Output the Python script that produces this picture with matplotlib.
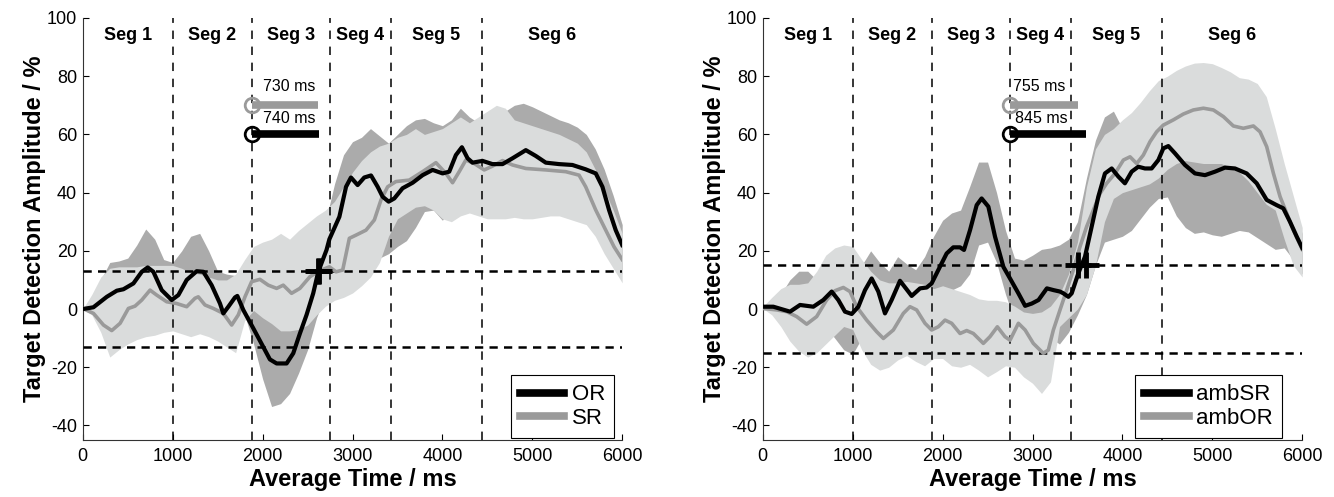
import numpy as np
import matplotlib
matplotlib.use("Agg")
import matplotlib.pyplot as plt
from matplotlib.lines import Line2D

plt.rcParams['font.family'] = ['Liberation Sans', 'DejaVu Sans']
plt.rcParams['axes.unicode_minus'] = False

# ---- data ----
# band edges sampled every 100 ms
TIME = np.arange(0, 6001, 100)
SEG_BOUNDS = [1000, 1885, 2750, 3425, 4440]
SEG_LABELS = ["Seg 1", "Seg 2", "Seg 3", "Seg 4", "Seg 5", "Seg 6"]

# left panel: OR (black, dark band) and SR (gray, light band)
left_or_up = [0, 3, 10, 16, 16.5, 17.5, 22, 27.5, 24, 17, 16, 20, 25, 26, 20, 13, 12, 11.5, 8, 4,
              0, -3, -5, -4, 0, 8, 18, 30, 43, 53, 57.5, 59, 62, 59.5, 57, 60, 63, 65, 65.5, 64,
              63, 65, 69, 66, 64, 63, 65, 68, 70, 70.7, 69.5, 68, 66.5, 65, 64, 62.5, 60, 55, 48, 39, 29]
left_or_lo = [0, -1, -2, -3, -3, -2, 0, 2, 0, -3, -4, -2, 0, 0, -3, -6, -8, -8, -2, -12,
              -24, -33.5, -32.5, -29, -22, -14, -3, 5, 10, 14, 16, 17, 17, 17.5, 19, 21.5, 23.5, 28, 33.5, 34,
              30.5, 35, 40, 40, 40, 40, 40, 40, 40, 40, 40, 40, 40, 40, 39, 38, 36, 32, 25, 18, 12]
left_sr_up = [0, 5, 11, 14, 14.5, 14.5, 14.5, 15, 15, 15, 15, 14, 12.5, 12, 11, 10, 10, 12, 17, 21.5,
              23, 24, 26, 24, 27, 29.5, 32, 34, 37, 42, 47, 51, 54, 56, 57, 59, 60, 62, 60, 61,
              62, 64, 66, 64, 66, 68, 70, 69, 65, 64, 63, 62, 61, 60, 58.5, 57, 54, 48, 41, 34, 26]
left_sr_lo = [0, -2, -8, -16.5, -14, -12, -10.5, -9.5, -9, -8, -7.5, -8.5, -9.5, -8.5, -9.5, -11, -13, -15, -4, -0.5,
              -3, -5, -7.5, -7.5, -7, -5.5, -2, 1, 3, 4, 5.5, 8, 11, 16, 25, 31, 33, 35, 35.5, 34,
              31, 30, 32, 33, 32, 31, 31, 31, 31.5, 31, 31, 31.5, 32, 32, 31, 30, 29, 25, 19, 14, 9]

left_or_t = [0, 118, 267, 378, 452, 563, 656, 722, 785, 878, 989, 1063, 1156, 1267, 1341, 1433, 1526,
             1563, 1619, 1693, 1719, 1785, 1896, 2007, 2081, 2156, 2267, 2341, 2415, 2489, 2563, 2619,
             2711, 2743, 2854, 2928, 2983, 3057, 3131, 3206, 3280, 3335, 3402, 3465, 3557, 3669, 3780,
             3891, 4002, 4076, 4150, 4217, 4280, 4335, 4446, 4557, 4669, 4780, 4928, 5039, 5150, 5298,
             5446, 5594, 5706, 5780, 5854, 5928, 6000]
left_or_v = [0, 0.6, 4.2, 6.3, 6.8, 8.8, 12.8, 14.3, 12.8, 6.5, 3.1, 4.8, 10, 13, 12.8, 8.2, 1.9,
             -1.5, 0.8, 4, 4.5, -0.3, -6.6, -13, -17.3, -18.7, -18.7, -15.2, -8.4, -2, 5.4, 12.8,
             20.3, 24, 31.7, 42, 45.2, 42.6, 45.2, 45.9, 42, 38.6, 36.9, 38, 41.5, 43.4, 46,
             47.8, 46.6, 47.2, 52.9, 55.6, 51.8, 50.3, 50.9, 49.8, 49.8, 51.8, 54.6, 52.6, 50.3, 49.8,
             49.5, 48, 46.6, 42, 34, 27.1, 22]
left_sr_t = [0, 119, 230, 322, 415, 507, 581, 656, 748, 822, 933, 1044, 1156, 1248, 1285, 1359, 1452,
             1563, 1656, 1730, 1804, 1878, 1970, 2063, 2156, 2230, 2322, 2415, 2526, 2637, 2743, 2817,
             2891, 2965, 3039, 3150, 3243, 3317, 3391, 3483, 3631, 3780, 3928, 4039, 4113, 4187, 4261,
             4354, 4465, 4557, 4669, 4780, 4928, 5150, 5372, 5520, 5594, 5706, 5817, 5909, 6000]
left_sr_v = [0.2, -1.5, -5.5, -7.4, -4.9, 0.2, 1, 3.1, 6.5, 4.8, 2.5, 1.9, 0.8, 3.7, 4.2, 1.4, 0.2,
             -1.5, -5.5, -2, 4.2, 9.4, 10.2, 8.2, 7.1, 8.2, 5.4, 7.1, 11.1, 13.2, 14.5, 12.8,
             13.4, 24.3, 25.4, 27.1, 30.6, 37.5, 42, 43.8, 44.3, 47.2, 50.3, 46.6, 43.4, 47.2, 51.2,
             50, 47.8, 49.1, 51, 49.5, 48.3, 47.8, 47.2, 46, 42, 34, 27.1, 21.4, 17]

# right panel: ambSR (black, dark band) and ambOR (gray, light band)
right_sr_up = [0.8, 2, 5, 10, 13, 13, 10, 10, 10, 10, 10, 15, 20, 16, 13, 18, 15.5, 13.5, 18, 25,
               30.5, 33, 34, 42, 50.5, 50.5, 40, 27, 17.5, 16.8, 18.5, 20.5, 21, 22, 24, 30, 45, 58, 66, 68,
               62, 60, 62, 64, 66, 67, 66, 66, 65, 64, 64, 64, 63, 62, 60, 58, 54, 50, 44, 35, 26]
right_sr_lo = [0.8, 0, -1, -2, -2, -2, -3, -6, -10, -14, -15.5, -10, -6, -6, -7, -4, -4, -3, -2, 0,
               4, 6.5, 8, 12, 22, 23, 16, 5, -4, -8, -9, -8, -10, -12, -8, -2, 5, 15, 23, 24,
               25, 27, 31, 35, 38, 38.5, 32, 28, 26, 26.5, 25.5, 25, 26, 27, 26.5, 24.5, 22.5, 20.5, 21, 17, 12]
right_or_up = [0.8, 4, 7, 8.5, 8.5, 9, 13, 18.5, 21, 22, 21.5, 17, 13, 10, 9, 9, 9.5, 9, 8.5, 7,
               8, 7, 6, 5, 3.5, 3, 3, 2.5, 1, -1, -1.5, -1, 1, 5, 12, 23, 42, 55, 60, 62,
               65, 67.5, 71, 75, 78.5, 80, 82, 83.5, 84.5, 84.7, 84.3, 83, 81.5, 79.5, 79, 77.5, 73, 62, 50, 39, 28]
right_or_lo = [0.2, -2, -6, -11, -14.5, -16.5, -15, -12, -9, -6, -7, -14, -19, -21, -20, -17.5, -16, -18, -19.5, -17,
               -17, -19.5, -20, -19, -21, -23.3, -21.5, -19.5, -20, -23.3, -25.5, -29, -25, -6, -3, 0, 5, 15, 30, 38,
               40, 41, 42, 43, 45, 48, 50, 51, 50.5, 50, 50, 50, 48.5, 47, 44, 40, 36, 34, 24, 15, 11]

right_sr_t = [0, 117, 303, 414, 562, 673, 766, 840, 914, 989, 1063, 1137, 1211, 1285, 1359, 1433, 1526,
              1619, 1656, 1749, 1823, 1878, 1952, 2045, 2119, 2194, 2238, 2305, 2379, 2434, 2509, 2583,
              2676, 2750, 2843, 2918, 2993, 3067, 3160, 3234, 3306, 3343, 3399, 3436, 3510, 3584, 3658,
              3732, 3806, 3881, 3955, 4028, 4103, 4177, 4251, 4325, 4400, 4455, 4511, 4585, 4696, 4807,
              4919, 5030, 5141, 5252, 5382, 5494, 5605, 5716, 5790, 5864, 5939, 6000]
right_sr_v = [0.8, 0.8, -0.9, 1.4, 0.8, 3.1, 6, 3.1, -0.9, -1.7, 0.8, 6.5, 10.5, 6, -1.5, 3.1, 9.7,
              6, 4.5, 7.1, 7.4, 8.8, 13.4, 19.1, 21.2, 21.2, 20.3, 27.1, 35.7, 38, 35.2, 24.9,
              14.5, 10.5, 5.4, 1.1, 1.9, 3.1, 7.1, 6.5, 6, 5.4, 4.2, 5.4, 12.3, 18, 28.3,
              38.6, 46.6, 48.3, 45.5, 43.2, 47.2, 48.9, 48.3, 48.3, 51.2, 55.2, 56, 53.5, 49.5, 46.6,
              46, 47.2, 48.6, 48.3, 46.6, 43.2, 37.5, 35.7, 34.6, 30, 24.9, 21]
right_or_t = [0, 154, 266, 377, 488, 599, 710, 803, 896, 970, 1044, 1155, 1267, 1341, 1452, 1563, 1637,
              1711, 1804, 1878, 1952, 2027, 2101, 2194, 2268, 2342, 2453, 2527, 2609, 2694, 2750, 2843,
              2918, 3009, 3120, 3176, 3232, 3306, 3380, 3454, 3528, 3602, 3677, 3751, 3825, 3918, 4011,
              4085, 4159, 4233, 4307, 4381, 4455, 4567, 4678, 4789, 4901, 5012, 5124, 5234, 5345, 5457,
              5531, 5605, 5680, 5754, 5828, 5902, 6000]
right_or_v = [0.2, -0.3, -0.9, -2.6, -5.2, -2.6, 3.1, 6.3, 7.4, 6, 0.8, -3.8, -7.8, -10.1, -7.2, -1.5, 0.8,
              -0.3, -4.9, -7.2, -6.1, -3.8, -4.9, -8.4, -7.4, -8.4, -11.8, -9.5, -6.1, -9.5, -10.7, -4.9,
              -7.2, -11.8, -15.2, -14.1, -7.2, -0.3, 6.5, 13.4, 21.4, 28.3, 34, 39.7, 43.2, 46.6, 51.2,
              52.3, 50, 52.9, 57.5, 60.9, 63.2, 65, 67, 68.4, 69, 68.4, 66.1, 62.9, 62.1, 62.9,
              60.9, 55.8, 46.6, 38.6, 32.9, 27.1, 20.5]

left_threshold = 13
right_threshold = 15
left_latency = [730, 740]     # gray, black
right_latency = [755, 845]
left_names = ["OR", "SR"]
right_names = ["ambSR", "ambOR"]

DARK_BAND = "#ababab"
LIGHT_BAND = "#dadcdc"
GRAY_LINE = "#9a9a9a"


def draw_panel(ax, dark_up, dark_lo, light_up, light_lo, blk_t, blk_v, gry_t, gry_v,
               thr, onset, latency, names, text_dx, leg_x):
    # bands: dark first, light opaque on top
    ax.fill_between(TIME, dark_lo, dark_up, color=DARK_BAND, lw=0, zorder=1)
    ax.fill_between(TIME, light_lo, light_up, color=LIGHT_BAND, lw=0, zorder=2)

    for b in SEG_BOUNDS:
        ax.axvline(b, color="k", lw=1.1, ls=(0, (5.5, 5)), zorder=3)
    for h in (thr, -thr):
        ax.axhline(h, color="k", lw=1.8, ls=(0, (3.3, 2.5)), zorder=3)

    ax.plot(gry_t, gry_v, color=GRAY_LINE, lw=2.6, zorder=4)
    ax.plot(blk_t, blk_v, color="k", lw=3, zorder=5)

    # segment labels
    edges = [0] + SEG_BOUNDS + [6000]
    for i, lab in enumerate(SEG_LABELS):
        ax.text((edges[i] + edges[i + 1]) / 2, 94, lab, ha="center", va="center",
                fontsize=13, fontweight="bold", zorder=6)

    # latency bars
    lat_g, lat_k = latency
    ax.plot([onset, onset + lat_g], [70, 70], color=GRAY_LINE, lw=5.5,
            solid_capstyle="butt", zorder=6)
    ax.plot(onset, 70, "o", ms=10.5, mfc="none", mec=GRAY_LINE, mew=2, zorder=6)
    ax.plot([onset, onset + lat_k], [60, 60], color="k", lw=5.5,
            solid_capstyle="butt", zorder=6)
    ax.plot(onset, 60, "o", ms=10.5, mfc="none", mec="k", mew=2, zorder=6)
    ax.text(onset + text_dx[0], 74, f"{lat_g} ms", fontsize=11.5, va="bottom", zorder=6)
    ax.text(onset + text_dx[1], 63, f"{lat_k} ms", fontsize=11.5, va="bottom", zorder=6)

    # crossing markers
    for lat in latency:
        ax.plot(onset + lat, thr, marker="+", ms=19, mew=3.5, color="k", zorder=7)

    ax.set_xlim(0, 6000)
    ax.set_ylim(-45, 100)
    ax.set_xticks(range(0, 6001, 1000))
    ax.set_yticks(range(-40, 101, 20))
    ax.tick_params(direction="in", length=4, width=0.8, labelsize=13)
    ax.tick_params(axis="x", pad=6)
    ax.tick_params(axis="y", pad=4)
    for s in ("top", "right"):
        ax.spines[s].set_visible(False)
    for s in ("left", "bottom"):
        ax.spines[s].set_linewidth(0.8)
        ax.spines[s].set_color("#333333")
    ax.set_xlabel("Average Time / ms", fontsize=17, fontweight="bold", labelpad=2)
    ax.set_ylabel("Target Detection Amplitude / %", fontsize=17, fontweight="bold", labelpad=1)

    handles = [Line2D([], [], color="k", lw=5.5), Line2D([], [], color=GRAY_LINE, lw=5.5)]
    leg = ax.legend(handles, names, loc="lower right", bbox_to_anchor=(leg_x, 0.005),
                    fontsize=16, handlelength=2.0, handletextpad=0.35, borderpad=0.4,
                    labelspacing=0.12, borderaxespad=0, fancybox=False, framealpha=1)
    leg.get_frame().set_edgecolor("k")
    leg.get_frame().set_linewidth(0.8)
    leg.set_zorder(8)


fig = plt.figure(figsize=(13.34, 4.97), dpi=100)
ax1 = fig.add_axes([82.8 / 1334, 57 / 497, 539.4 / 1334, 422 / 497])
ax2 = fig.add_axes([762.8 / 1334, 57 / 497, 539.4 / 1334, 422 / 497])

draw_panel(ax1, left_or_up, left_or_lo, left_sr_up, left_sr_lo,
           left_or_t, left_or_v, left_sr_t, left_sr_v,
           left_threshold, SEG_BOUNDS[1], left_latency, left_names, (125, 115), 0.985)
draw_panel(ax2, right_sr_up, right_sr_lo, right_or_up, right_or_lo,
           right_sr_t, right_sr_v, right_or_t, right_or_v,
           right_threshold, SEG_BOUNDS[2], right_latency, right_names, (36, 55), 0.9625)

fig.savefig("out.png", dpi=100)
